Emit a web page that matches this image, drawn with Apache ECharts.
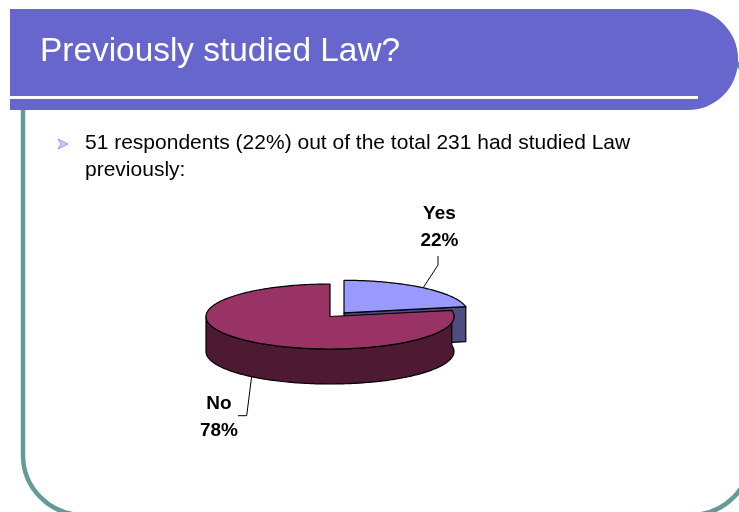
<!DOCTYPE html>
<html><head><meta charset="utf-8">
<style>html,body{margin:0;padding:0;background:#fff}#c{width:739px;height:512px}</style>
<script src="https://cdn.jsdelivr.net/npm/echarts@6/dist/echarts.min.js"></script>
</head><body><div id="c"></div>
<script>
const categories = ['Yes', 'No'];
const values = [22, 78];
const titleText = 'Previously studied Law?';
const bodyLines = ['51 respondents (22%) out of the total 231 had studied Law', 'previously:'];

const FONT = '"Liberation Sans", Arial, sans-serif';
const geo = {
  cx: 330, cy: 316.5, rx: 124, ry: 32.5, depth: 35,
  styles: {
    Yes: { top: '#9999FF', side: '#4D4D80', dx: 14, dy: -3.7, labelX: 439.5, labelY: 227, leader: [[438,256],[438,265],[423,288]] },
    No: { top: '#993366', side: '#4D1933', dx: 0, dy: 0, labelX: 219, labelY: 417, leader: [[251.7,376],[246.7,415.7],[238,415.7]] }
  }
};
const total = values.reduce((a, b) => a + b, 0);
// Slices run from 12 o'clock; Yes goes clockwise to its share and No fills the rest.
function sliceRange(i) {
  const yesEnd = values[0] / total * 2 * Math.PI;
  return i === 0 ? [0, yesEnd] : [yesEnd, 2 * Math.PI];
}
function arcPts(cx, cy, a0, a1, drop) {
  const n = Math.max(2, Math.ceil(Math.abs(a1 - a0) / 0.02)), pts = [];
  for (let k = 0; k <= n; k++) {
    const a = a0 + (a1 - a0) * k / n;
    pts.push([cx + geo.rx * Math.sin(a), cy - geo.ry * Math.cos(a) + (drop || 0)]);
  }
  return pts;
}
function renderSlice(params, api) {
  const i = params.dataIndex, name = categories[i], s = geo.styles[name];
  const [a0, a1] = sliceRange(i);
  const cx = geo.cx + s.dx, cy = geo.cy + s.dy, d = geo.depth;
  const line = { stroke: '#000', lineWidth: 1.2, lineJoin: 'round' };
  const children = [];
  if (i === 0) {
    const e = arcPts(cx, cy, a1, a1)[0];
    children.push({ type: 'polygon', shape: { points: [[cx, cy], e, [e[0], e[1] + d], [cx, cy + d]] },
      style: Object.assign({ fill: s.side }, line) });
  } else {
    const end = Math.min(a1, 1.5 * Math.PI);
    const upper = arcPts(cx, cy, a0, end);
    const lower = arcPts(cx, cy, end, a0, d);
    children.push({ type: 'polygon', shape: { points: upper.concat(lower) },
      style: Object.assign({ fill: s.side }, line) });
  }
  children.push({ type: 'polygon', shape: { points: [[cx, cy]].concat(arcPts(cx, cy, a0, a1)) },
    style: Object.assign({ fill: s.top }, line) });
  children.push({ type: 'polyline', shape: { points: s.leader },
    style: { stroke: '#000', lineWidth: 1, fill: null } });
  children.push({ type: 'text', x: s.labelX, y: s.labelY,
    style: { text: name + '\n' + api.value(0) + '%', fill: '#000', font: 'bold 19px ' + FONT,
      align: 'center', verticalAlign: 'middle', lineHeight: 27 } });
  return { type: 'group', children };
}

const chart = echarts.init(document.getElementById('c'), null, { renderer: 'canvas' });
chart.setOption({
  animation: false,
  backgroundColor: '#fff',
  graphic: [
    { type: 'rect', z: 1, shape: { x: 23, y: 42, width: 728, height: 473, r: 60 },
      style: { fill: null, stroke: '#669999', lineWidth: 4.5 } },
    { type: 'rect', z: 2, shape: { x: 10, y: 9, width: 728, height: 101, r: [0, 50, 50, 0] },
      style: { fill: '#6666CC' } },
    { type: 'rect', z: 3, shape: { x: 10, y: 96, width: 688, height: 3 }, style: { fill: '#fff' } },
    { type: 'text', z: 3, x: 40, y: 52, style: { text: titleText, fill: '#fff', font: '33.4px ' + FONT, verticalAlign: 'middle' } },
    { type: 'polygon', z: 3, shape: { points: [[58,139],[68,144],[58,149],[61,144]] }, style: { fill: '#CCCCFF', stroke: '#9999FF', lineWidth: 1 } },
    { type: 'text', z: 3, x: 85, y: 143, style: { text: bodyLines[0], fill: '#000', font: '21px ' + FONT, verticalAlign: 'middle' } },
    { type: 'text', z: 3, x: 85, y: 170, style: { text: bodyLines[1], fill: '#000', font: '21px ' + FONT, verticalAlign: 'middle' } }
  ],
  series: [{
    type: 'custom', coordinateSystem: 'none', z: 5, silent: true,
    data: values.map((v, i) => ({ name: categories[i], value: [v] })),
    renderItem: renderSlice
  }]
});
</script></body></html>
